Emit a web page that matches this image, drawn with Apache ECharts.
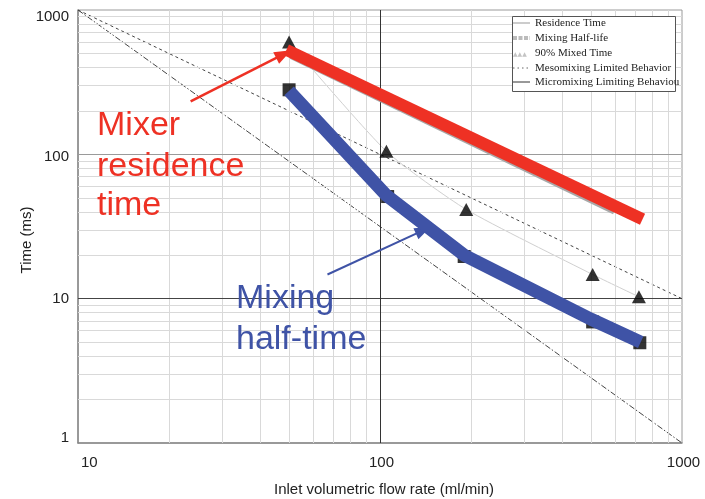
<!DOCTYPE html>
<html>
<head>
<meta charset="utf-8">
<script src="https://cdn.jsdelivr.net/npm/echarts/dist/echarts.min.js"></script>
<style>
  html, body { margin: 0; padding: 0; background: #fff; }
  #chart { width: 705px; height: 499px; }
</style>
</head>
<body>
<div id="chart"></div>
<script>
// Flow rates (ml/min) and measured times (ms)
const triangleFlow = [50, 105, 193, 506, 720];
const triangleTime = [600, 105, 41.5, 14.7, 10.3];   // 90% mixed time
const squareFlow = [50, 106, 190, 506, 725];
const squareTime = [280, 51, 19.6, 6.9, 4.95];      // mixing half-life

// Highlighted trends
const residenceFlow = [49, 740];
const residenceTime = [530, 35.5];
const residenceShadowFlow = [51, 600];
const residenceShadowTime = [490, 41];
const halfTimeFlow = [50, 105, 190, 500, 730];
const halfTimeTime = [275, 52, 20, 7.2, 5.0];

// Limiting-behaviour model lines
const mesoFlow = [10, 1000];
const mesoTime = [1000, 10];
const microFlow = [10, 1000];
const microTime = [1000, 1];

// Axis ticks and grid lines
const xTicks = [10, 100, 1000];
const yTicks = [1, 10, 100, 1000];
const xMinor = [20, 30, 40, 50, 60, 70, 80, 90, 200, 300, 400, 500, 600, 700, 800, 900];
const yMinor = [2, 3, 4, 5, 6, 7, 8, 9, 20, 30, 40, 50, 60, 70, 80, 90, 200, 300, 400, 500, 600, 700, 800, 900];

// Annotation arrows (data coordinates)
const redArrow = [[23.6, 233], [48, 495]];
const blueArrow = [[67, 14.7], [139, 29.7]];

const RED = '#ee3124';
const BLUE = '#3f53a6';

const pairs = (xs, ys) => xs.map((x, i) => [x, ys[i]]);
const plain = v => String(Math.round(v));
// y labels sit slightly inside the outer decades
const yLabel = v => {
  const n = Math.round(v);
  const key = n === 1000 ? 'top' : n === 100 ? 'mid' : n === 1 ? 'bot' : 'n';
  return '{' + key + '|' + n + '}';
};

const gridLines = [];
xMinor.forEach(v => gridLines.push({ xAxis: v, lineStyle: { color: '#d9d9d9', width: 1, type: 'solid' } }));
yMinor.forEach(v => gridLines.push({ yAxis: v, lineStyle: { color: '#d9d9d9', width: 1, type: 'solid' } }));
gridLines.push({ yAxis: 100, lineStyle: { color: '#9a9a9a', width: 1, type: 'solid' } });
gridLines.push({ yAxis: 10, lineStyle: { color: '#444', width: 1, type: 'solid' } });
gridLines.push({ xAxis: 100, lineStyle: { color: '#333', width: 1, type: 'solid' } });

const chart = echarts.init(document.getElementById('chart'), null, { renderer: 'canvas' });

const font = 'Liberation Sans, Arial, sans-serif';
const serif = 'Liberation Serif, Times New Roman, serif';

const legendItems = ['Residence Time', 'Mixing Half-life', '90% Mixed Time',
  'Mesomixing Limited Behavior', 'Micromixing Limiting Behaviou'];
const legendY = [23, 38, 53, 68, 82];

const legendGraphics = [
  { type: 'rect', shape: { x: 512.5, y: 16.5, width: 163, height: 75 },
    style: { fill: '#fff', stroke: '#555', lineWidth: 1 }, z: 100 },
  { type: 'line', shape: { x1: 513, y1: legendY[0], x2: 530, y2: legendY[0] },
    style: { stroke: '#999', lineWidth: 1 }, z: 101 },
  { type: 'line', shape: { x1: 513, y1: legendY[1], x2: 530, y2: legendY[1] },
    style: { stroke: '#bbb', lineWidth: 4, lineDash: [4, 1.5] }, z: 101 },
  { type: 'text', x: 513, y: legendY[2] + 1,
    style: { text: '▲▲▲', fill: '#c4c4c4', font: '6px DejaVu Sans', verticalAlign: 'middle' }, z: 101 },
  { type: 'line', shape: { x1: 513, y1: legendY[3], x2: 530, y2: legendY[3] },
    style: { stroke: '#666', lineWidth: 1, lineDash: [1.5, 3] }, z: 101 },
  { type: 'line', shape: { x1: 513, y1: legendY[4], x2: 530, y2: legendY[4] },
    style: { stroke: '#333', lineWidth: 1 }, z: 101 }
];
legendItems.forEach((t, i) => {
  legendGraphics.push({
    type: 'text', x: 535, y: legendY[i],
    style: { text: t, fill: '#222', font: '11px ' + serif, verticalAlign: 'middle' }, z: 101
  });
});

const yRich = {
  top: { fontSize: 15, fontFamily: font, color: '#222', padding: [14, 0, 0, 0] },
  mid: { fontSize: 15, fontFamily: font, color: '#222', padding: [6, 0, 0, 0] },
  bot: { fontSize: 15, fontFamily: font, color: '#222', padding: [0, 0, 10, 0] },
  n: { fontSize: 15, fontFamily: font, color: '#222' }
};

const option = {
  animation: false,
  backgroundColor: '#fff',
  grid: { left: 78, right: 23, top: 10, bottom: 56, show: true, borderColor: '#9a9a9a', borderWidth: 1,
    containLabel: false, outerBoundsMode: 'none' },
  xAxis: {
    type: 'log', logBase: 10, min: 10, max: 1000,
    axisLine: { show: true, lineStyle: { color: '#888', width: 1.5 } },
    axisTick: { show: false },
    splitLine: { show: false },
    axisLabel: { color: '#222', fontSize: 15, fontFamily: font, margin: 12, formatter: plain,
      customValues: xTicks, alignMinLabel: 'left', padding: [0, 0, 0, 3] },
    name: 'Inlet volumetric flow rate (ml/min)',
    nameLocation: 'middle', nameGap: 39,
    nameTextStyle: { color: '#222', fontSize: 15, fontFamily: font, padding: [0, 0, 0, 8] }
  },
  yAxis: {
    type: 'log', logBase: 10, min: 1, max: 1000,
    axisLine: { show: true, lineStyle: { color: '#888', width: 1.5 } },
    axisTick: { show: false },
    splitLine: { show: false },
    axisLabel: { color: '#222', fontSize: 15, fontFamily: font, margin: 9, formatter: yLabel,
      customValues: yTicks, rich: yRich }
  },
  graphic: [
    { type: 'text', x: 27, y: 240, rotation: Math.PI / 2,
      style: { text: 'Time (ms)', fill: '#222', font: '15px ' + font, align: 'center', verticalAlign: 'middle' } },
    { type: 'text', x: 97, y: 126, z: 60,
      style: { text: 'Mixer', fill: RED, font: '34px ' + font, verticalAlign: 'middle' } },
    { type: 'text', x: 97, y: 167, z: 60,
      style: { text: 'residence', fill: RED, font: '34px ' + font, verticalAlign: 'middle' } },
    { type: 'text', x: 97, y: 206, z: 60,
      style: { text: 'time', fill: RED, font: '34px ' + font, verticalAlign: 'middle' } },
    { type: 'text', x: 236, y: 299, z: 60,
      style: { text: 'Mixing', fill: BLUE, font: '34px ' + font, verticalAlign: 'middle' } },
    { type: 'text', x: 236, y: 340, z: 60,
      style: { text: 'half-time', fill: BLUE, font: '34px ' + font, verticalAlign: 'middle' } }
  ].concat(legendGraphics),
  series: [
    {
      name: 'grid', type: 'line', data: [], silent: true, z: 1,
      markLine: { silent: true, symbol: 'none', label: { show: false }, animation: false, data: gridLines }
    },
    {
      name: 'Mesomixing Limited Behavior', type: 'line', data: pairs(mesoFlow, mesoTime),
      showSymbol: false, silent: true, z: 3,
      lineStyle: { color: '#444', width: 1, type: [3, 3] }
    },
    {
      name: 'Micromixing Limiting Behaviour', type: 'line', data: pairs(microFlow, microTime),
      showSymbol: false, silent: true, z: 3,
      lineStyle: { color: '#444', width: 1, type: [6, 2, 1.5, 2] }
    },
    {
      name: '90% Mixed Time trend', type: 'line', data: pairs(triangleFlow, triangleTime),
      showSymbol: false, silent: true, z: 3, smooth: 0.2,
      lineStyle: { color: '#d0d0d0', width: 1 }
    },
    {
      name: '90% Mixed Time', type: 'scatter', data: pairs(triangleFlow, triangleTime),
      symbol: 'triangle', symbolSize: [14, 13], z: 5,
      itemStyle: { color: '#000' }
    },
    {
      name: 'Mixing Half-life', type: 'scatter', data: pairs(squareFlow, squareTime),
      symbol: 'rect', symbolSize: 13, z: 5,
      itemStyle: { color: '#000' }
    },
    {
      name: 'Residence Time', type: 'line', data: pairs(residenceShadowFlow, residenceShadowTime),
      showSymbol: false, silent: true, z: 6,
      lineStyle: { color: '#a8a8a8', width: 9, cap: 'butt' }
    },
    {
      name: 'Mixer residence time', type: 'line', data: pairs(residenceFlow, residenceTime),
      showSymbol: false, silent: true, z: 8,
      lineStyle: { color: RED, width: 12, cap: 'butt' },
      markLine: {
        silent: true, symbol: ['none', 'triangle'], symbolSize: [13, 17], label: { show: false },
        lineStyle: { color: RED, width: 2.5, type: 'solid' },
        data: [[{ coord: redArrow[0] }, { coord: redArrow[1] }]]
      }
    },
    {
      name: 'Mixing half-time', type: 'line', data: pairs(halfTimeFlow, halfTimeTime),
      showSymbol: false, silent: true, z: 8,
      lineStyle: { color: BLUE, width: 13, cap: 'butt', join: 'round' },
      markLine: {
        silent: true, symbol: ['none', 'triangle'], symbolSize: [12, 16], label: { show: false },
        lineStyle: { color: BLUE, width: 2, type: 'solid' },
        data: [[{ coord: blueArrow[0] }, { coord: blueArrow[1] }]]
      }
    }
  ]
};

chart.setOption(option);
</script>
</body>
</html>
